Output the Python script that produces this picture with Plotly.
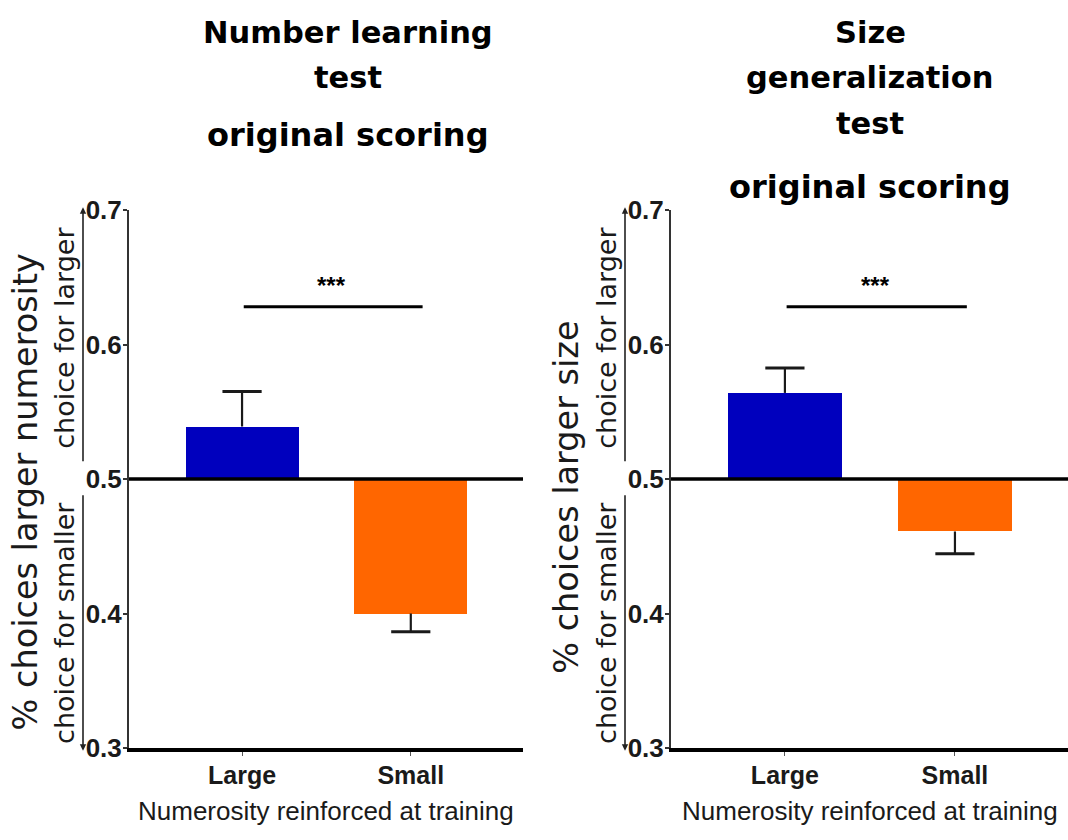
import plotly.graph_objects as go

# --- data -------------------------------------------------------------
categories = ["Large", "Small"]
number_means = [0.539, 0.400]
number_sem = [0.026, 0.0135]
size_means = [0.564, 0.461]
size_sem = [0.0185, 0.0165]
chance = 0.5
sig_label = "***"
sig_level = 0.628
y_ticks = [0.3, 0.4, 0.5, 0.6, 0.7]

bar_colors = ["#0000BE", "#FF6600"]
W, H = 1068, 840

TITLE_FONT = "DejaVu Sans"
AXIS_FONT = "Liberation Sans"
YT_FONT = "DejaVu Sans"
INK = "#1a1a1a"

fig = go.Figure()

# heading lines: (text, vertical centre in px, font size)
panels = [
    dict(means=number_means, sem=number_sem, xa="x", ya="y",
         dom=(129, 523), ytitle="% choices larger numerosity", cx=348, yt_center=0.49,
         title_lines=[("Number learning", 33, 30.5), ("test", 77, 30.5),
                      ("original scoring", 135, 32)]),
    dict(means=size_means, sem=size_sem, xa="x2", ya="y2",
         dom=(671, 1068), ytitle="% choices larger size", cx=870, yt_center=0.486,
         title_lines=[("Size", 33, 30.5), ("generalization", 77, 30.5),
                      ("test", 123, 30.5), ("original scoring", 187, 32)]),
]

annotations = []
shapes = []

for p in panels:
    means, sem = p["means"], p["sem"]
    xref, yref = p["xa"], p["ya"]
    # bars grow away from chance level
    fig.add_trace(go.Bar(
        x=categories, y=[m - chance for m in means], base=chance,
        marker=dict(color=bar_colors, line=dict(width=0)),
        width=0.67, xaxis=xref, yaxis=yref, showlegend=False, hoverinfo="skip",
    ))
    # one-sided SEM whiskers on the outer end of each bar
    tips = [m + s if m >= chance else m - s for m, s in zip(means, sem)]
    wx, wy = [], []
    for c, m, t in zip(categories, means, tips):
        wx += [c, c, None]
        wy += [m, t, None]
    fig.add_trace(go.Scatter(
        x=wx, y=wy, mode="lines", line=dict(color=INK, width=2.2),
        xaxis=xref, yaxis=yref, showlegend=False, hoverinfo="skip",
    ))
    fig.add_trace(go.Scatter(
        x=categories, y=tips, mode="markers",
        marker=dict(symbol="line-ew-open", size=28, color=INK,
                    line=dict(color=INK, width=3)),
        xaxis=xref, yaxis=yref, showlegend=False, hoverinfo="skip",
    ))

    ax_left = p["dom"][0]

    # chance line across the panel
    shapes.append(dict(type="line", xref=f"{xref} domain", yref=yref,
                       x0=0, x1=1, y0=chance, y1=chance,
                       line=dict(color="black", width=3.5)))
    # significance bracket
    shapes.append(dict(type="line", xref=xref, yref=yref,
                       x0=0.01, x1=1.07, y0=sig_level, y1=sig_level,
                       line=dict(color="black", width=3)))
    annotations.append(dict(x=0.53, y=sig_level + 0.016, xref=xref, yref=yref,
                            text=sig_label, showarrow=False,
                            font=dict(family=AXIS_FONT, size=24, color="black",
                                      weight="bold"),
                            yanchor="middle"))

    # direction arrows beside the y axis
    arrow_x = (ax_left - 46) / W
    annotations.append(dict(x=arrow_x, y=0.702, xref="paper", yref=yref,
                            ax=0, ay=0.512, axref="pixel", ayref=yref,
                            showarrow=True, arrowhead=2, arrowsize=0.8, arrowwidth=1.6,
                            arrowcolor="#222", text=""))
    annotations.append(dict(x=arrow_x, y=0.298, xref="paper", yref=yref,
                            ax=0, ay=0.489, axref="pixel", ayref=yref,
                            showarrow=True, arrowhead=2, arrowsize=0.8, arrowwidth=1.6,
                            arrowcolor="#222", text=""))

    sub_x = (ax_left - 64) / W
    annotations.append(dict(x=sub_x, y=0.605, xref="paper", yref=yref,
                            text="choice for larger", textangle=-90, showarrow=False,
                            font=dict(family=YT_FONT, size=27, color=INK),
                            xanchor="center", yanchor="middle"))
    annotations.append(dict(x=sub_x, y=0.393, xref="paper", yref=yref,
                            text="choice for smaller", textangle=-90, showarrow=False,
                            font=dict(family=YT_FONT, size=27, color=INK),
                            xanchor="center", yanchor="middle"))

    ytitle_x = (ax_left - 104) / W
    annotations.append(dict(x=ytitle_x, y=p["yt_center"], xref="paper", yref=yref,
                            text=p["ytitle"], textangle=-90, showarrow=False,
                            font=dict(family=YT_FONT, size=33.5, color=INK),
                            xanchor="center", yanchor="middle"))

    # x-axis caption
    annotations.append(dict(x=0.5, y=1 - 811 / H, xref=f"{xref} domain", yref="paper",
                            text="Numerosity reinforced at training", showarrow=False,
                            font=dict(family=AXIS_FONT, size=26, color=INK),
                            xanchor="center", yanchor="middle"))

    # panel headings
    for txt, py, fs in p["title_lines"]:
        annotations.append(dict(x=p["cx"] / W, y=1 - py / H, xref="paper", yref="paper",
                                text=txt, showarrow=False,
                                font=dict(family=TITLE_FONT, size=fs, color="black",
                                          weight="bold"),
                                xanchor="center", yanchor="middle"))

ydom = [1 - 748 / H, 1 - 210 / H]

axis_common_x = dict(
    range=[-0.67, 1.665], showgrid=False, zeroline=False, automargin=False,
    showline=True, linecolor="black", linewidth=3.5,
    ticks="outside", ticklen=4, tickcolor="#555", tickwidth=1,
    tickfont=dict(family=AXIS_FONT, size=25, color=INK, weight="bold"),
    ticklabelstandoff=-2,
    fixedrange=True,
)
axis_common_y = dict(
    range=[0.3, 0.7], tickvals=y_ticks,
    ticktext=[f"{v:.1f}" for v in y_ticks],
    showgrid=False, zeroline=False, showline=True, automargin=False,
    linecolor="#333", linewidth=2, ticks="outside", ticklen=4,
    tickcolor="#333", tickwidth=1.5,
    tickfont=dict(family=AXIS_FONT, size=26, color=INK, weight="bold"),
    ticklabelstandoff=-4,
    domain=ydom, fixedrange=True,
)

fig.update_layout(
    template="none",
    width=W, height=H,
    margin=dict(l=0, r=0, t=0, b=0, autoexpand=False),
    paper_bgcolor="white", plot_bgcolor="white",
    bargap=0,
    xaxis=dict(axis_common_x, domain=[129 / W, 523 / W], anchor="y"),
    yaxis=dict(axis_common_y, anchor="x"),
    xaxis2=dict(axis_common_x, domain=[671 / W, 1.0], anchor="y2"),
    yaxis2=dict(axis_common_y, anchor="x2"),
    annotations=annotations,
    shapes=shapes,
)

fig.write_html("out.html")
